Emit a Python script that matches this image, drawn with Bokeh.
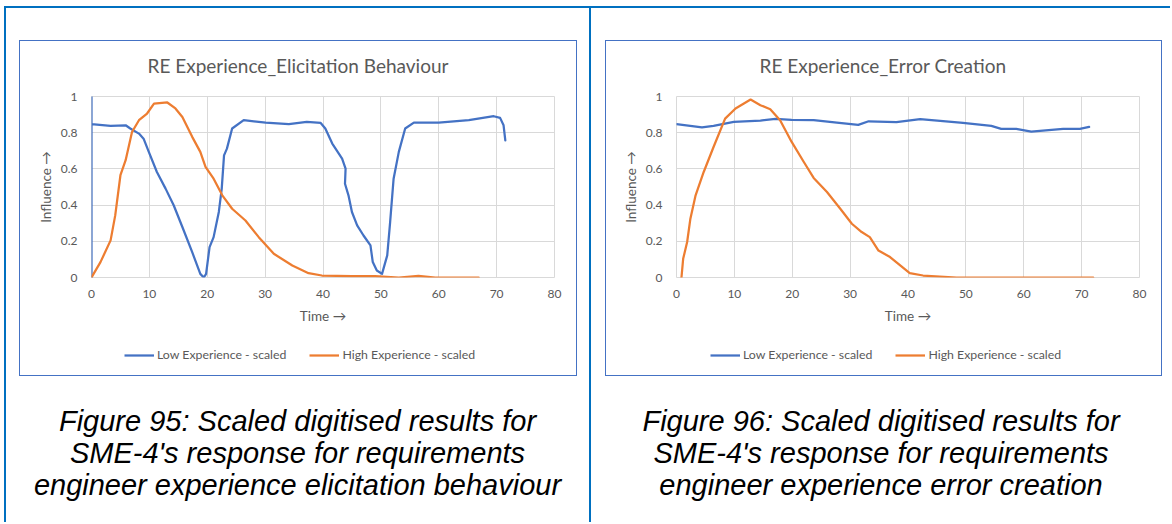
from bokeh.plotting import figure
from bokeh.models import Range1d, Legend, LegendItem, Div, Spacer, FixedTicker, Title
from bokeh.layouts import column, row
from bokeh.embed import file_html
from bokeh.resources import INLINE

# ---------------- data ----------------
x_ticks = [0, 10, 20, 30, 40, 50, 60, 70, 80]
y_ticks = [0, 0.2, 0.4, 0.6, 0.8, 1]
y_tick_labels = ["0", "0.2", "0.4", "0.6", "0.8", "1"]
series_names = ["Low Experience - scaled", "High Experience - scaled"]
titles = ["RE Experience_Elicitation Behaviour", "RE Experience_Error Creation"]
captions = [
    "Figure 95: Scaled digitised results for<br>SME-4's response for requirements<br>engineer experience elicitation behaviour",
    "Figure 96: Scaled digitised results for<br>SME-4's response for requirements<br>engineer experience error creation",
]

elic_low_x = [0, 0, 0, 3.3, 5.9, 6.7, 8.2, 9.0, 9.9, 11.3, 12.8, 14.2, 15.7, 17.4, 18.8, 19.4, 19.8,
              20.4, 21.1, 22.0, 22.5, 22.9, 23.4, 24.3, 26.3, 30.1, 34.1, 37.2, 39.6, 40.4, 41.6,
              43.3, 43.9, 43.8, 44.4, 45.0, 45.9, 47.0, 48.2, 48.6, 49.3, 50.2, 51.1, 51.6, 52.2,
              53.1, 54.2, 55.7, 60.0, 65.2, 69.5, 70.6, 71.2, 71.5]
elic_low_y = [0, 1, 0.847, 0.838, 0.841, 0.823, 0.795, 0.767, 0.694, 0.583, 0.491, 0.399, 0.279,
              0.140, 0.020, 0.0, 0.020, 0.168, 0.223, 0.362, 0.490, 0.675, 0.712, 0.823, 0.869,
              0.856, 0.847, 0.860, 0.854, 0.823, 0.740, 0.657, 0.601, 0.518, 0.454, 0.362, 0.288,
              0.232, 0.177, 0.085, 0.039, 0.020, 0.122, 0.306, 0.546, 0.694, 0.823, 0.856, 0.856,
              0.869, 0.891, 0.882, 0.841, 0.758]
elic_high_x = [0, 1.55, 3.3, 4.1, 5.0, 5.9, 7.0, 8.2, 9.6, 10.8, 13.1, 14.5, 15.7, 17.4, 18.8, 19.7,
               21.1, 22.6, 24.3, 26.6, 28.9, 31.5, 34.7, 37.5, 39.8, 45.0, 49.0, 53.1, 56.5, 59.4, 66.9]
elic_high_y = [0, 0.085, 0.205, 0.343, 0.565, 0.648, 0.804, 0.869, 0.906, 0.961, 0.967, 0.934, 0.887,
               0.777, 0.694, 0.611, 0.546, 0.454, 0.380, 0.315, 0.223, 0.131, 0.066, 0.024, 0.011,
               0.007, 0.007, 0.0, 0.009, 0.0, 0.0]

err_low_x = [0, 4.4, 6.4, 9.9, 14.5, 17.1, 19.9, 23.7, 27.7, 31.4, 33.2, 38.0, 42.1, 49.5, 54.4,
             56.1, 58.7, 61.3, 66.8, 69.7, 71.3]
err_low_y = [0.847, 0.830, 0.838, 0.860, 0.867, 0.876, 0.871, 0.869, 0.856, 0.843, 0.863, 0.858,
             0.875, 0.854, 0.838, 0.821, 0.821, 0.806, 0.821, 0.821, 0.832]
err_high_x = [0.86, 1.15, 1.84, 2.4, 3.3, 4.7, 6.4, 8.4, 10.2, 12.8, 14.5, 16.2, 17.9, 19.9, 22.0,
              23.7, 26.0, 28.3, 30.3, 32.0, 33.4, 34.9, 36.9, 40.3, 42.6, 48.4, 53.6, 59.9, 72.0]
err_high_y = [0.0, 0.103, 0.196, 0.325, 0.454, 0.583, 0.721, 0.878, 0.934, 0.983, 0.952, 0.930,
              0.869, 0.749, 0.638, 0.550, 0.472, 0.380, 0.297, 0.251, 0.223, 0.149, 0.113, 0.024,
              0.011, 0.0, 0.0, 0.0, 0.0]

# ---------------- style ----------------
BLUE = "#4472C4"
ORANGE = "#ED7D31"
GRID = "#D9D9D9"
TXT = "#595959"
FRAME = "#0070C0"
BOX = "#4472C4"
FONT = "Lato"
MAIN_H = 292
LEG_H = 44


def make_chart(title, lx, ly, hx, hy, left, title_off, legend_x):
    w = left + 463 + 24
    p = figure(width=w, height=MAIN_H, x_range=Range1d(0, 80), y_range=Range1d(0, 1),
               output_backend="svg", toolbar_location=None,
               min_border_left=left, min_border_right=24, min_border_top=55, min_border_bottom=56,
               margin=0, styles={"border-left": "1px solid " + BOX, "border-right": "1px solid " + BOX,
                                 "border-top": "1px solid " + BOX})
    # small empty gap between the title and the plot area
    p.add_layout(Title(text=" ", text_font_size="1px", standoff=12), "above")
    p.title.text = title
    p.title.text_font = FONT
    p.title.text_font_size = "19px"
    p.title.text_color = TXT
    p.title.text_font_style = "normal"
    p.title.align = "left"
    p.title.offset = title_off
    p.title.standoff = 10

    p.xaxis.ticker = FixedTicker(ticks=x_ticks)
    p.yaxis.ticker = FixedTicker(ticks=y_ticks)
    p.yaxis.major_label_overrides = dict(zip(y_ticks, y_tick_labels))
    p.xaxis.axis_label = "Time \u2192"
    p.yaxis.axis_label = "Influence \u2192"
    for ax in (p.xaxis[0], p.yaxis[0]):
        ax.axis_line_color = None
        ax.major_tick_line_color = None
        ax.minor_tick_line_color = None
        ax.major_tick_out = 0
        ax.major_tick_in = 0
        ax.major_label_text_font = FONT
        ax.major_label_text_font_size = "12px"
        ax.major_label_text_color = TXT
        ax.axis_label_text_font = FONT
        ax.axis_label_text_font_size = "13.5px"
        ax.axis_label_text_color = TXT
        ax.axis_label_text_font_style = "normal"
    p.xaxis.major_label_standoff = 12
    p.yaxis.major_label_standoff = 14
    p.xaxis.axis_label_standoff = 7
    p.yaxis.axis_label_standoff = 4

    p.xgrid.grid_line_color = GRID
    p.ygrid.grid_line_color = GRID
    p.outline_line_color = GRID
    p.outline_line_width = 1
    p.background_fill_color = "white"
    p.border_fill_color = "white"

    p.line(lx, ly, line_color=BLUE, line_width=2.25, line_join="round", line_cap="round")
    p.line(hx, hy, line_color=ORANGE, line_width=2.25, line_join="round", line_cap="round")

    # legend strip below the chart (inside the same bordered box); the series are
    # re-used here only as legend keys, with a y-range that keeps them out of view
    q = figure(width=w, height=LEG_H, x_axis_type=None, y_axis_type=None, title=None,
               x_range=Range1d(0, 80), y_range=Range1d(5, 6),
               output_backend="svg", toolbar_location=None,
               min_border_left=0, min_border_right=0, min_border_top=0, min_border_bottom=0,
               margin=0, styles={"border-left": "1px solid " + BOX, "border-right": "1px solid " + BOX,
                                 "border-bottom": "1px solid " + BOX})
    q.outline_line_color = None
    q.background_fill_color = "white"
    q.border_fill_color = "white"
    k_low = q.line(lx, ly, line_color=BLUE, line_width=2.25)
    k_high = q.line(hx, hy, line_color=ORANGE, line_width=2.25)
    leg = Legend(items=[LegendItem(label=series_names[0], renderers=[k_low]),
                        LegendItem(label=series_names[1], renderers=[k_high])],
                 orientation="horizontal", location=(legend_x, 14), padding=0, margin=0, spacing=23,
                 glyph_width=30, glyph_height=14, label_height=14, label_standoff=3,
                 border_line_color=None, background_fill_alpha=0,
                 label_text_font=FONT, label_text_font_size="12.3px", label_text_color=TXT)
    q.add_layout(leg, "center")
    return column(p, q, spacing=0)


c1 = make_chart(titles[0], elic_low_x, elic_low_y, elic_high_x, elic_high_y, 71, 56, 33)
c2 = make_chart(titles[1], err_low_x, err_low_y, err_high_x, err_high_y, 70, 83, 34)

cap_style = {"font-family": "Liberation Sans, Arial, sans-serif", "font-style": "italic",
             "font-size": "29px", "line-height": "32px", "text-align": "center", "color": "#000000"}

cap1 = Div(text=captions[0], width=583, height=100, margin=0, styles=cap_style)
cap2 = Div(text=captions[1], width=566, height=100, margin=0, styles=cap_style)

cell1 = column(Spacer(width=583, height=32, margin=0),
               row(Spacer(width=13, height=338, margin=0), c1, Spacer(width=10, height=338, margin=0), spacing=0),
               Spacer(width=583, height=27, margin=0),
               cap1, spacing=0)
cell2 = column(Spacer(width=579, height=32, margin=0),
               row(Spacer(width=14, height=338, margin=0), c2, Spacer(width=6, height=338, margin=0), spacing=0),
               Spacer(width=579, height=27, margin=0),
               row(Spacer(width=7, height=100, margin=0), cap2, spacing=0),
               spacing=0)

top_line = Div(text="", width=1166, height=2, margin=0, styles={"background-color": FRAME})
left_line = Div(text="", width=2, height=514, margin=0, styles={"background-color": FRAME})
divider = Div(text="", width=2, height=514, margin=0, styles={"background-color": FRAME})

framed = column(top_line, row(left_line, cell1, divider, cell2, spacing=0), spacing=0)
layout = column(Spacer(width=1170, height=6, margin=0),
                row(Spacer(width=4, height=516, margin=0), framed, spacing=0),
                spacing=0)

open("out.html", "w").write(file_html(layout, INLINE))
